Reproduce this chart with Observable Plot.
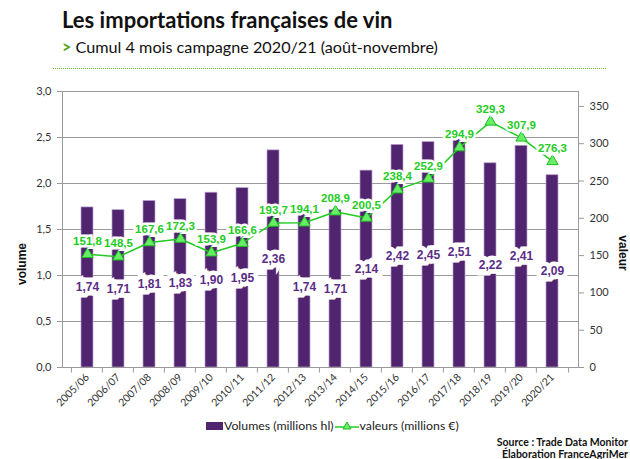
<!DOCTYPE html>
<html><head><meta charset="utf-8">
<script src="https://cdn.jsdelivr.net/npm/d3@7"></script>
<script src="https://cdn.jsdelivr.net/npm/@observablehq/plot@0.6"></script>
<style>
body{margin:0;width:630px;height:459px;position:relative;background:#fff;font-family:Lato,"Open Sans",sans-serif;overflow:hidden}
#title{position:absolute;left:62px;top:6px;font-size:22px;font-weight:700;color:#111;white-space:nowrap}
#subtitle{position:absolute;left:62px;top:37px;font-size:16.2px;color:#111;white-space:nowrap}
#subtitle b{color:#5a9e1a}
#rule{position:absolute;left:53px;top:68px;width:553px;border-top:1px dotted #6cbf2c}
#chart{position:absolute;left:0;top:75px}
#legend{position:absolute;top:418px;left:206px;font-size:12.3px;color:#222;display:flex;align-items:center;white-space:nowrap}
#legend .sq{display:inline-block;width:17px;height:8px;background:#51246f;margin-right:1px}
#source{position:absolute;right:2px;top:436px;font-size:10.5px;font-weight:700;text-align:right;line-height:12px;color:#111}
.ytitle{position:absolute;font-family:"Liberation Sans",Arial,sans-serif;font-weight:700;font-size:12px;color:#111;white-space:nowrap;line-height:12px}
#ylab{left:22px;top:264px;transform:translate(-50%,-50%) rotate(-90deg)}
#y2lab{left:623px;top:253px;transform:translate(-50%,-50%) rotate(90deg)}
</style></head><body>
<div id="title">Les importations françaises de vin</div>
<div id="subtitle"><b>&gt;</b> Cumul 4 mois campagne 2020/21 (août-novembre)</div>
<div id="rule"></div>
<div id="chart"></div>
<div id="ylab" class="ytitle">volume</div>
<div id="y2lab" class="ytitle">valeur</div>
<div id="legend"><span class="sq"></span>Volumes (millions hl)<svg width="24" height="12" style="margin:0 1px"><line x1="0" y1="7" x2="24" y2="7" stroke="#22cc22" stroke-width="1.5"/><path d="M12,2 L16,9 L8,9 Z" fill="#66ee66" stroke="#22bb22"/></svg>valeurs (millions €)</div>
<div id="source">Source : Trade Data Monitor<br>Élaboration FranceAgriMer</div>
<script>
const campagnes = ["2005/06","2006/07","2007/08","2008/09","2009/10","2010/11","2011/12","2012/13","2013/14","2014/15","2015/16","2016/17","2017/18","2018/19","2019/20","2020/21"];
const volumes = [1.74,1.71,1.81,1.83,1.90,1.95,2.36,1.74,1.71,2.14,2.42,2.45,2.51,2.22,2.41,2.09];
const valeurs = [151.8,148.5,167.6,172.3,153.9,166.6,193.7,194.1,208.9,200.5,238.4,252.9,294.9,329.3,307.9,276.3];
const leftTicks = [0,0.5,1,1.5,2,2.5,3];
const rightTicks = [0,50,100,150,200,250,300,350];
const leftMax = 3, rightMax = 370;

const toLeft = v => v * leftMax / rightMax;
const data = campagnes.map((c,i)=>({c, vol: volumes[i], val: valeurs[i], valY: toLeft(valeurs[i])}));
const fmt = d3.format(".2f"), comma = s => s.replace(".", ",");
const green = "#22cc22", purple = "#51246f";

const chart = Plot.plot({
  width: 630, height: 335,
  marginTop: 16, marginLeft: 62, marginRight: 52, marginBottom: 43,
  style: {fontFamily: "Lato, 'Open Sans', sans-serif", fontSize: "11px", color: "#333", background: "transparent"},
  x: {type: "band", domain: campagnes, padding: 0.6, label: null},
  y: {domain: [0, leftMax], label: null},
  marks: [
    Plot.gridY(leftTicks, {stroke: "#9a9a9a", strokeOpacity: 1}),
    Plot.barY(data, {x: "c", y: "vol", fill: purple, stroke: "#b9a3cf", strokeWidth: 0.7}),
    Plot.frame({stroke: "#9a9a9a"}),
    Plot.axisY(leftTicks, {anchor: "left", tickFormat: d => comma(d.toFixed(1)), tickSize: 5, stroke: "#9a9a9a", fill: "#333", fontSize: 11, label: null, tickPadding: 6}),
    Plot.axisY(rightTicks.map(toLeft), {anchor: "right", tickFormat: (d,i) => String(rightTicks[i]), tickSize: 5, stroke: "#9a9a9a", fill: "#333", fontSize: 11, label: null, tickPadding: 6}),
    Plot.axisX({tickRotate: -45, tickSize: 0, tickPadding: 8, fontSize: 10.5, fill: "#333", label: null}),
    Plot.ruleX(campagnes, {x: d => d, dx: -16.1, y1: 0, y2: -0.06, stroke: "#9a9a9a"}),
    Plot.ruleX([campagnes[campagnes.length-1]], {x: d => d, dx: 16.1, y1: 0, y2: -0.06, stroke: "#9a9a9a"}),
    Plot.line(data, {x: "c", y: "valY", stroke: green, strokeWidth: 1.5}),
    Plot.dot(data, {x: "c", y: "valY", symbol: "triangle", r: 4.2, fill: "#66ee66", stroke: "#22bb22", strokeWidth: 1}),
    Plot.text(data, {x: "c", y: d => d.vol / 2, text: d => comma(fmt(d.vol)), fill: "#5a2d86", fontWeight: "bold", fontSize: 12, fontFamily: "'Liberation Sans', Arial, sans-serif", stroke: "white", strokeWidth: 9, strokeLinejoin: "miter"}),
    Plot.text(data, {x: "c", y: "valY", dy: -13, text: d => comma(d.val.toFixed(1)), fill: "#22cc22", fontWeight: "bold", fontSize: 11.5, fontFamily: "'Liberation Sans', Arial, sans-serif", stroke: "white", strokeWidth: 5, strokeLinejoin: "miter"})
  ]
});
document.getElementById("chart").appendChild(chart);
</script>
</body></html>
